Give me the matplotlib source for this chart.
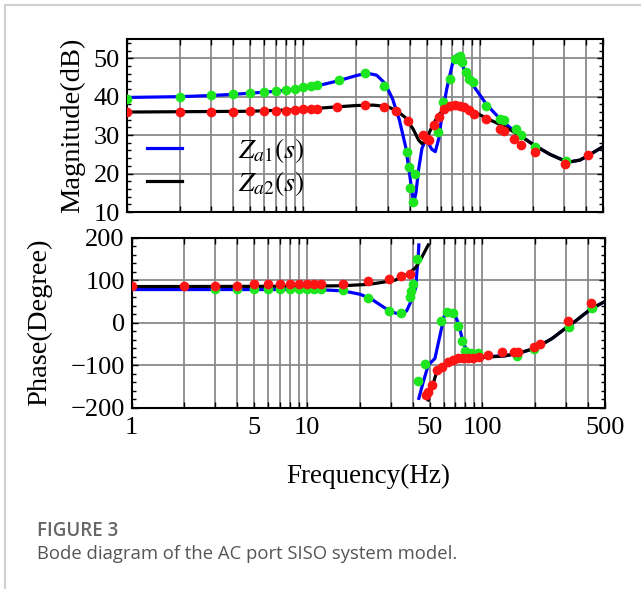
import numpy as np
import matplotlib
matplotlib.use('Agg')
import matplotlib.pyplot as plt
from matplotlib.patches import Rectangle

plt.rcParams['font.family'] = ['Liberation Serif', 'DejaVu Serif']
plt.rcParams['mathtext.fontset'] = 'stix'

# magnitude curves (dB)
mag1_f = [1, 2, 3, 4, 5, 7, 10, 13, 16, 20, 23, 26, 29, 32, 35, 38, 40, 41.5, 42.3, 43.5, 45, 47, 49, 51, 53.5, 56,
          58.5, 61, 65, 70, 74, 77, 80, 84, 90, 100, 110, 130, 150, 175, 200, 250, 300, 330, 370, 410, 460, 500]
mag1 = [39.8, 40, 40.3, 40.6, 40.9, 41.4, 42.2, 43.2, 44.2, 45.5, 46.1, 45.6, 43.5, 39.5, 34, 27, 20, 14.5, 12.5, 15,
        21, 26.5, 28.5, 28, 26.3, 25.7, 29, 35, 42, 48.5, 50.8, 50, 48, 45.8, 43.5, 40.5, 37.8, 34.3, 31.8, 29.5, 27.6,
        25, 23.4, 23.1, 23.5, 24.6, 26, 27]
mag2_f = [1, 5, 10, 15, 20, 25, 30, 34, 38, 42, 45, 47, 49, 51, 54, 58, 62, 67, 72, 78, 85, 92, 100, 110, 130, 150,
          175, 200, 250, 300, 330, 370, 410, 460, 500]
mag2 = [36, 36.2, 36.7, 37.3, 37.7, 37.8, 37.4, 36.3, 34.5, 31.5, 28.7, 27.8, 28.3, 30, 32.5, 35, 36.6, 37.5, 37.8,
        37.6, 37, 36.2, 35.3, 34.3, 32.8, 31.3, 29.4, 27.6, 25, 23.4, 23.1, 23.5, 24.6, 26, 27]

# magnitude measured points
mag_g_f = [1, 2, 3, 4, 5, 6, 7, 8, 9, 10, 11, 12, 16, 22.4, 28.8, 38.6, 39.9, 40.3, 41.6, 43.2, 58.2, 61.8, 67.6,
           72.1, 77.3, 79.3, 83.7, 87.3, 92.1, 109, 130, 137, 160, 172, 207, 309]
mag_g = [39.4, 39.9, 40.4, 40.6, 41, 41.2, 41.5, 41.7, 42.1, 42.5, 42.7, 43.1, 44.3, 46.2, 42.9, 25.7, 21.8, 16.3,
         12.7, 19.9, 30.9, 38.6, 44.7, 49.9, 50.5, 49, 46.4, 44.7, 43.7, 37.5, 34.3, 34, 31.5, 30, 27, 23.2]
mag_r_f = [1, 2, 3, 4, 5, 6, 7, 8, 9, 10, 11, 12, 15.6, 22.4, 28.8, 33.4, 39.2, 47.8, 50.4, 51.8, 55.2, 58.5, 62.4,
           67.6, 72.5, 77.3, 81.5, 87.3, 93.1, 109, 130, 137, 157, 172, 205, 304, 410]
mag_r = [35.9, 35.9, 35.9, 35.9, 36.2, 36.2, 36.2, 36.2, 36.5, 36.8, 36.8, 36.8, 37.4, 37.8, 37.4, 36.2, 33.7, 30,
         29.1, 28.7, 32.6, 34.8, 36.7, 37.5, 37.8, 37.5, 37.2, 36.5, 35.6, 34.2, 31.7, 31, 28.9, 27.4, 25.7, 22.4, 24.8]

# phase curves (degree), two branches each
ph1_fa = [1, 5, 10, 12, 16, 20, 23, 27, 30, 33, 35, 37, 39.3, 41.7, 42.2, 43, 43.4]
ph1_a = [78, 78, 78, 77.5, 75, 67, 57, 38, 26, 21, 22, 28, 52, 83, 115, 153, 183]
ph1_fb = [43.4, 46, 49.1, 53.6, 57.2, 60.5, 63.8, 69, 72.8, 76, 79.5, 84.8, 92.7, 100, 134, 160, 200, 250, 300,
          330, 400, 450, 500]
ph1_b = [-178, -139, -100, -84, -31, 15, 27, 22, 0, -31, -57, -69, -75, -80, -78, -72, -60, -37, -12, 0, 27, 40, 50]
ph2_fa = [1, 5, 10, 16, 22, 26, 31.7, 37.8, 41.7, 45, 49.1]
ph2_a = [85, 85.5, 86, 87, 90, 94, 100, 115, 130, 153, 183]
ph2_fb = [49.1, 51.4, 54.8, 61.2, 76, 100, 134, 160, 200, 250, 300, 330, 400, 450, 500]
ph2_b = [-182, -155, -116, -100, -88, -82, -78, -72, -60, -37, -12, 0, 27, 40, 50]

# phase measured points
ph_g_f = [3, 4, 5, 6, 7, 8, 9, 10, 11, 12, 16, 22.3, 29.4, 34.2, 38.6, 39.3, 40.4, 42.2, 42.8, 47, 58, 63.1, 68.1,
          72.2, 76, 79.5, 86, 94.8, 157, 198, 312, 419]
ph_g = [79, 79, 79, 79, 79, 79, 79, 79, 79, 79, 78, 57, 27, 23, 61, 75, 90, 149, -137, -98, 4, 26, 23, -8, -43, -66,
        -72, -72, -79, -63, -10, 35]
ph_r_f = [1, 2, 3, 4, 5, 6, 7, 8, 9, 10, 11, 12, 16, 22.3, 29.4, 34.2, 38.6, 47.4, 49.1, 51.4, 54.8, 58.5, 64, 68,
          72.8, 77.5, 83, 88, 95, 107.6, 128.8, 151, 159, 195.6, 214, 309, 415]
ph_r = [87, 87, 87, 86, 91, 91.5, 91.5, 91.5, 91.5, 91.5, 91.5, 91.5, 92, 97, 102, 109, 115, -170, -162, -147, -112,
        -104, -92, -88, -84, -83, -82, -82, -80, -75, -70, -68, -68, -58, -49, 4, 46]

xt_all = [1, 2, 3, 4, 5, 6, 7, 8, 9, 10, 20, 30, 40, 50, 60, 70, 80, 90, 100, 200, 300, 400, 500]
xt_lab = {1: '1', 5: '5', 10: '10', 50: '50', 100: '100', 500: '500'}

blue = '#0000ff'
green = '#1ee61e'
red = '#ff1414'

fig = plt.figure(figsize=(6.41, 5.89), dpi=100)
fig.patches.append(Rectangle((5 / 641, -0.1), 1.2, 1.1 - 5 / 589, transform=fig.transFigure,
                             fill=False, edgecolor='#d0d0d0', lw=1.5, zorder=-5))

ax1 = fig.add_axes([127 / 641, 1 - 212 / 589, 476 / 641, 173 / 589])
ax2 = fig.add_axes([131.7 / 641, 1 - 407.7 / 589, 473.3 / 641, 170 / 589])

l1, = ax1.plot(mag1_f, mag1, color=blue, lw=2.3, zorder=3)
l2, = ax1.plot(mag2_f, mag2, color='black', lw=2.3, zorder=4)
ax1.plot(mag_g_f, mag_g, 'o', color=green, ms=7, mec='none', zorder=5)
ax1.plot(mag_r_f, mag_r, 'o', color=red, ms=7, mec='none', zorder=6)

ax2.plot(ph1_fa, ph1_a, color=blue, lw=2.3, zorder=3)
ax2.plot(ph1_fb, ph1_b, color=blue, lw=2.3, zorder=3)
ax2.plot(ph2_fa, ph2_a, color='black', lw=2.3, zorder=4)
ax2.plot(ph2_fb, ph2_b, color='black', lw=2.3, zorder=4)
ax2.plot(ph_g_f, ph_g, 'o', color=green, ms=7, mec='none', zorder=5)
ax2.plot(ph_r_f, ph_r, 'o', color=red, ms=7, mec='none', zorder=6)

for ax in (ax1, ax2):
    ax.set_xscale('log')
    ax.set_xlim(1, 500)
    ax.set_xticks(xt_all)
    ax.xaxis.set_minor_locator(plt.NullLocator())
    ax.grid(True, which='major', color='#8a8a8a', lw=1.3, zorder=0)
    ax.tick_params(direction='in', top=True, right=True, labelsize=19, length=4, width=1, pad=5)
    ax.tick_params(which='minor', direction='in', right=True, length=3, width=1)
    for s in ax.spines.values():
        s.set_linewidth(1.5)

ax1.set_xticklabels([''] * len(xt_all))
ax2.set_xticklabels([xt_lab.get(t, '') for t in xt_all])
ax2.tick_params(axis='x', pad=7)

ax1.set_ylim(10, 55)
ax1.set_yticks([10, 20, 30, 40, 50])
ax1.set_yticks(np.arange(10, 56, 2), minor=True)
ax2.set_ylim(-200, 200)
ax2.set_yticks([-200, -100, 0, 100, 200])
ax2.set_yticks(np.arange(-200, 201, 20), minor=True)

ax1.set_ylabel('Magnitude(dB)', fontsize=20.5)
ax1.yaxis.set_label_coords(-0.088, 0.5)
ax2.set_ylabel('Phase(Degree)', fontsize=20.5)
ax2.yaxis.set_label_coords(-0.168, 0.5)
ax2.set_xlabel('Frequency(Hz)', fontsize=19.5)
ax2.xaxis.set_label_coords(0.5, -0.33)

ax1.legend([l1, l2], [r'$Z_{a1}(s)$', r'$Z_{a2}(s)$'], loc='center left', bbox_to_anchor=(0.042, 0.26),
           frameon=False, fontsize=20, handlelength=1.26, handletextpad=2.0, labelspacing=0.15,
           borderpad=0, borderaxespad=0)

fig.text(37 / 641, 1 - 531 / 589, 'FIGURE 3', family='Open Sans', fontsize=13.5, color='#666666',
         weight='semibold', va='center', ha='left')
fig.text(37 / 641, 1 - 554 / 589, 'Bode diagram of the AC port SISO system model.', family='Open Sans',
         fontsize=13.3, color='#555555', va='center', ha='left')

fig.savefig('out.png', dpi=100)
